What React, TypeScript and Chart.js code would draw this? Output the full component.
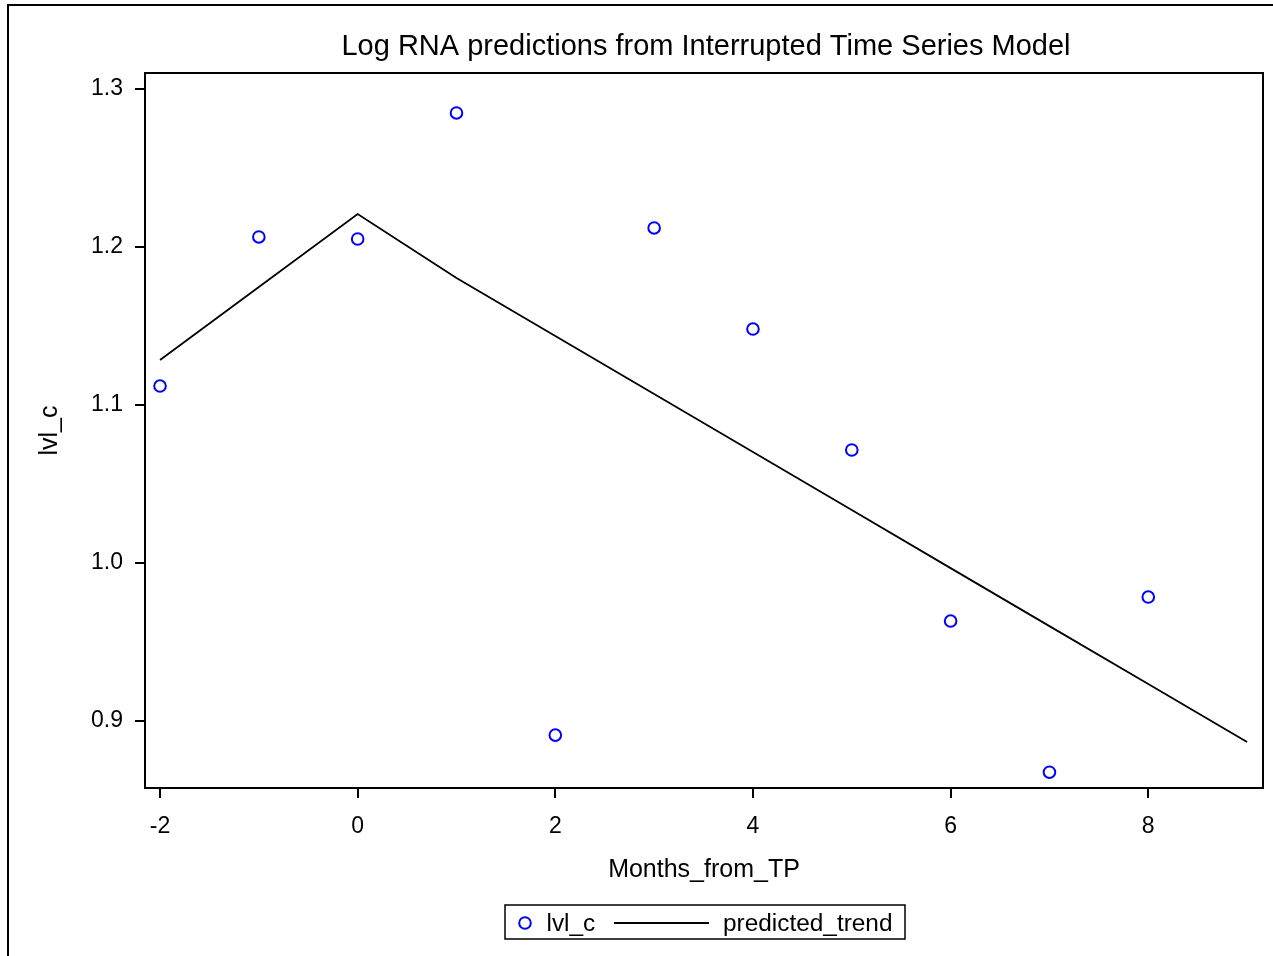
import React, { useEffect, useRef } from "react";
import { Chart, registerables } from "chart.js";

Chart.register(...registerables);

const FONT = '"Liberation Sans", Arial, sans-serif';

const titleText = "Log RNA predictions from Interrupted Time Series Model";
const xTitle = "Months_from_TP";
const yTitle = "lvl_c";
const seriesNames = ["lvl_c", "predicted_trend"];

const months = [-2, -1, 0, 1, 2, 3, 4, 5, 6, 7, 8];
const lvlC = [1.1119, 1.2063, 1.205, 1.2848, 0.8909, 1.212, 1.148, 1.0714, 0.9631, 0.8674, 0.9783];

const trendMonths = [-2, -1, 0, 1, 2, 3, 4, 5, 6, 7, 8, 9];
const predictedTrend = [1.1284, 1.1746, 1.2208, 1.1803, 1.1436, 1.1068, 1.0701, 1.0334, 0.9966, 0.9599, 0.9232, 0.8865];

const xTicks = [-2, 0, 2, 4, 6, 8];
const yTicks = [0.9, 1.0, 1.1, 1.2, 1.3];

const X_MIN = -2.152;
const X_MAX = 9.161;
const Y_MIN = 0.8574;
const Y_MAX = 1.3101;

const decor = {
  id: "decor",
  afterDraw(chart: any) {
    const ctx = chart.ctx as CanvasRenderingContext2D;
    const a = chart.chartArea;
    ctx.save();
    ctx.strokeStyle = "#000";
    ctx.fillStyle = "#000";
    ctx.lineWidth = 2;
    // outer frame (left + top)
    ctx.beginPath();
    ctx.moveTo(8, 960);
    ctx.lineTo(8, 5);
    ctx.lineTo(1280, 5);
    ctx.stroke();
    // plot frame
    ctx.strokeRect(a.left, a.top, a.right - a.left, a.bottom - a.top);
    // title
    ctx.textAlign = "center";
    ctx.textBaseline = "alphabetic";
    ctx.font = `29px ${FONT}`;
    ctx.fillText(titleText, (a.left + a.right) / 2 + 2, 55);
    // axis titles
    ctx.font = `25px ${FONT}`;
    ctx.fillText(xTitle, (a.left + a.right) / 2, 877);
    ctx.save();
    ctx.translate(57, (a.top + a.bottom) / 2);
    ctx.rotate(-Math.PI / 2);
    ctx.fillText(yTitle, 0, 0);
    ctx.restore();
    // legend
    ctx.lineWidth = 1.5;
    ctx.strokeRect(505, 905, 400, 34);
    ctx.strokeStyle = "#0000ff";
    ctx.lineWidth = 2;
    ctx.beginPath();
    ctx.arc(525, 923, 5.8, 0, Math.PI * 2);
    ctx.stroke();
    ctx.strokeStyle = "#000";
    ctx.beginPath();
    ctx.moveTo(614, 923);
    ctx.lineTo(709, 923);
    ctx.stroke();
    ctx.font = `24.4px ${FONT}`;
    ctx.textAlign = "left";
    ctx.fillText(seriesNames[0], 546.5, 931);
    ctx.fillText(seriesNames[1], 723, 931);
    ctx.restore();
  },
};

export default function App() {
  const ref = useRef<HTMLCanvasElement>(null);

  useEffect(() => {
    if (!ref.current) return;
    const chart = new Chart(ref.current, {
      type: "scatter",
      data: {
        datasets: [
          {
            label: seriesNames[1],
            data: trendMonths.map((m, i) => ({ x: m, y: predictedTrend[i] })),
            showLine: true,
            borderColor: "#000",
            borderWidth: 1.8,
            pointRadius: 0,
            fill: false,
          },
          {
            label: seriesNames[0],
            data: months.map((m, i) => ({ x: m, y: lvlC[i] })),
            showLine: false,
            pointRadius: 5.8,
            pointBorderWidth: 2,
            pointBorderColor: "#0000ff",
            pointBackgroundColor: "rgba(0,0,0,0)",
            borderColor: "#0000ff",
            backgroundColor: "rgba(0,0,0,0)",
          },
        ],
      },
      options: {
        responsive: false,
        animation: false,
        layout: { padding: { left: 0, top: 73, right: 10, bottom: 0 } },
        plugins: {
          legend: { display: false },
          title: { display: false },
          tooltip: { enabled: false },
        },
        scales: {
          x: {
            type: "linear",
            min: X_MIN,
            max: X_MAX,
            bounds: "data",
            afterBuildTicks: (s: any) => {
              s.ticks = xTicks.map((v) => ({ value: v }));
            },
            afterFit: (s: any) => {
              s.height = 168;
            },
            grid: { drawOnChartArea: false, drawTicks: true, tickLength: 10, lineWidth: 2, color: "#000" },
            border: { display: false },
            ticks: {
              color: "#000",
              font: { family: FONT, size: 23 },
              padding: 15,
              maxRotation: 0,
              autoSkip: false,
              callback: (v: any) => String(v),
            },
          },
          y: {
            type: "linear",
            min: Y_MIN,
            max: Y_MAX,
            bounds: "data",
            afterBuildTicks: (s: any) => {
              s.ticks = yTicks.map((v) => ({ value: v }));
            },
            afterFit: (s: any) => {
              s.width = 145;
            },
            grid: { drawOnChartArea: false, drawTicks: true, tickLength: 10, lineWidth: 2, color: "#000" },
            border: { display: false },
            ticks: {
              color: "#000",
              font: { family: FONT, size: 23 },
              padding: 12,
              autoSkip: false,
              callback: (v: any) => Number(v).toFixed(1),
            },
          },
        },
      },
      plugins: [decor],
    });
    return () => chart.destroy();
  }, []);

  return (
    <div style={{ position: "absolute", left: 0, top: 0, width: 1273, height: 956, overflow: "hidden", background: "#fff" }}>
      <canvas ref={ref} width={1273} height={956} style={{ position: "absolute", left: 0, top: 0, width: 1273, height: 956 }} />
    </div>
  );
}
